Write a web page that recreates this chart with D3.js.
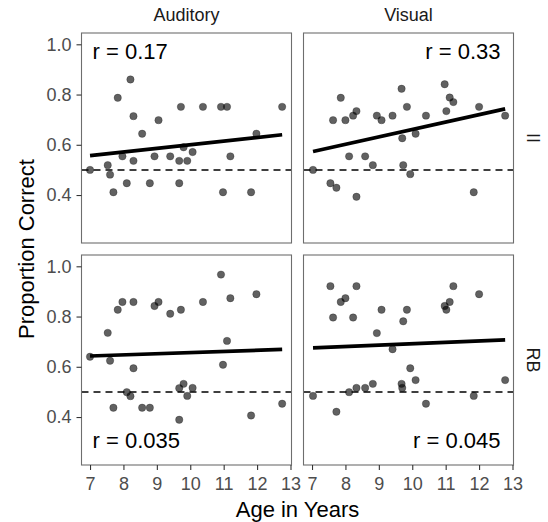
<!DOCTYPE html>
<html>
<head>
<meta charset="utf-8">
<script src="https://d3js.org/d3.v7.min.js"></script>
<style>
  body { margin: 0; background: #fff; }
  svg { display: block; }
  text { font-family: "Liberation Sans", Arial, Helvetica, sans-serif; }
</style>
</head>
<body>
<div id="chart"></div>
<script>
// Facet labels
const columns = ['Auditory', 'Visual'];
const rows = ['II', 'RB'];

// Ages (x) per modality column
const ageAuditory = [7.00, 7.53, 7.60, 7.70, 7.83, 7.97, 8.10, 8.21, 8.30, 8.30, 8.56, 8.79, 8.93, 9.05, 9.40,
  9.67, 9.67, 9.72, 9.80, 9.91, 10.07, 10.38, 10.92, 10.98, 11.10, 11.20, 11.82, 11.98, 12.75];
const ageVisual = [7.03, 7.55, 7.63, 7.73, 7.86, 8.00, 8.11, 8.23, 8.33, 8.33, 8.59, 8.82, 8.94, 9.08, 9.41,
  9.68, 9.70, 9.73, 9.84, 9.94, 10.10, 10.41, 10.97, 11.02, 11.12, 11.23, 11.84, 12.00, 12.78];

// Proportion correct (y) per panel
const pcAuditoryII = [0.500, 0.519, 0.481, 0.411, 0.787, 0.554, 0.447, 0.860, 0.714, 0.536, 0.644, 0.447, 0.554, 0.698, 0.554,
  0.447, 0.536, 0.751, 0.590, 0.536, 0.571, 0.751, 0.751, 0.411, 0.751, 0.554, 0.411, 0.644, 0.751];
const pcVisualII = [0.500, 0.447, 0.698, 0.429, 0.787, 0.698, 0.554, 0.716, 0.734, 0.393, 0.554, 0.519, 0.716, 0.698, 0.716,
  0.823, 0.626, 0.519, 0.751, 0.483, 0.644, 0.716, 0.841, 0.734, 0.788, 0.770, 0.411, 0.751, 0.716];
const pcAuditoryRB = [0.640, 0.735, 0.624, 0.437, 0.827, 0.858, 0.499, 0.483, 0.858, 0.594, 0.437, 0.437, 0.842, 0.858, 0.811,
  0.389, 0.515, 0.827, 0.532, 0.484, 0.516, 0.858, 0.967, 0.608, 0.703, 0.873, 0.406, 0.889, 0.453];
const pcVisualRB = [0.484, 0.921, 0.796, 0.421, 0.858, 0.873, 0.499, 0.796, 0.921, 0.516, 0.516, 0.532, 0.734, 0.827, 0.670,
  0.532, 0.516, 0.781, 0.827, 0.594, 0.547, 0.453, 0.842, 0.827, 0.858, 0.921, 0.484, 0.889, 0.547];

// Fitted line ends (y at min age, y at max age)
const fitStart = [0.557, 0.573, 0.643, 0.675];
const fitEnd = [0.640, 0.743, 0.669, 0.707];
const rLabels = ['r = 0.17', 'r = 0.33', 'r = 0.035', 'r = 0.045'];

const xTicks = [7, 8, 9, 10, 11, 12, 13];
const yTicks = [0.4, 0.6, 0.8, 1.0];
const chance = 0.5;

// panels in order: II-Auditory, II-Visual, RB-Auditory, RB-Visual
const panels = [
  { row: 0, col: 0, ages: ageAuditory, pc: pcAuditoryII },
  { row: 0, col: 1, ages: ageVisual, pc: pcVisualII },
  { row: 1, col: 0, ages: ageAuditory, pc: pcAuditoryRB },
  { row: 1, col: 1, ages: ageVisual, pc: pcVisualRB }
];

const width = 548, height = 522;
const panelSize = 210;
const colX = [81.5, 303.5];
const rowY = [33, 255];

const x = d3.scaleLinear().domain([6.745, 13.03]).range([0, panelSize]);
const y = d3.scaleLinear().domain([0.209, 1.045]).range([panelSize, 0]);

const svg = d3.select('#chart').append('svg')
  .attr('width', width)
  .attr('height', height);

panels.forEach((p, i) => {
  const g = svg.append('g').attr('transform', `translate(${colX[p.col]},${rowY[p.row]})`);

  // chance line
  g.append('line')
    .attr('x1', 0).attr('x2', panelSize)
    .attr('y1', y(chance)).attr('y2', y(chance))
    .attr('stroke', '#000')
    .attr('stroke-width', 1.5)
    .attr('stroke-dasharray', '7,5');

  // points
  g.selectAll('circle')
    .data(p.ages.map((a, j) => ({ age: a, pc: p.pc[j] })))
    .enter().append('circle')
    .attr('cx', d => x(d.age))
    .attr('cy', d => y(d.pc))
    .attr('r', 3.7)
    .attr('fill', '#000')
    .attr('fill-opacity', 0.62)
    .attr('stroke', '#000')
    .attr('stroke-opacity', 0.35)
    .attr('stroke-width', 0.7);

  // regression line
  const aMin = d3.min(p.ages), aMax = d3.max(p.ages);
  g.append('line')
    .attr('x1', x(aMin)).attr('y1', y(fitStart[i]))
    .attr('x2', x(aMax)).attr('y2', y(fitEnd[i]))
    .attr('stroke', '#000')
    .attr('stroke-width', 3.7);

  // r label
  const top = p.row === 0;
  const left = p.col === 0;
  g.append('text')
    .attr('x', left ? 11 : panelSize - 13)
    .attr('y', top ? 26 : 193)
    .attr('text-anchor', left ? 'start' : 'end')
    .attr('font-size', 22)
    .attr('fill', '#000')
    .text(rLabels[i]);

  // border
  g.append('rect')
    .attr('width', panelSize).attr('height', panelSize)
    .attr('fill', 'none')
    .attr('stroke', '#6e6e6e')
    .attr('stroke-width', 1.1);

  // y axis on left column
  if (p.col === 0) {
    const ay = g.append('g')
      .call(d3.axisLeft(y).tickValues(yTicks).tickFormat(d3.format('.1f')).tickSize(5).tickPadding(5));
    ay.select('.domain').remove();
  }
  // x axis on bottom row
  if (p.row === 1) {
    const ax = g.append('g')
      .attr('transform', `translate(0,${panelSize})`)
      .call(d3.axisBottom(x).tickValues(xTicks).tickFormat(d3.format('d')).tickSize(5).tickPadding(7));
    ax.select('.domain').remove();
  }
});

// axis styling
svg.selectAll('.tick line').attr('stroke', '#333').attr('stroke-width', 1.1);
svg.selectAll('.tick text')
  .attr('fill', '#4d4d4d')
  .attr('font-size', 18)
  .attr('font-family', '"Liberation Sans", Arial, sans-serif');

// column strips
columns.forEach((c, i) => {
  svg.append('text')
    .attr('x', colX[i] + panelSize / 2)
    .attr('y', 21)
    .attr('text-anchor', 'middle')
    .attr('font-size', 18)
    .attr('fill', '#1a1a1a')
    .text(c);
});

// row strips
rows.forEach((r, i) => {
  const cy = rowY[i] + panelSize / 2;
  svg.append('text')
    .attr('transform', `translate(527,${cy}) rotate(90)`)
    .attr('text-anchor', 'middle')
    .attr('font-size', 18)
    .attr('fill', '#1a1a1a')
    .text(r);
});

// axis titles
svg.append('text')
  .attr('x', (colX[0] + colX[1] + panelSize) / 2)
  .attr('y', 517)
  .attr('text-anchor', 'middle')
  .attr('font-size', 22)
  .attr('fill', '#000')
  .text('Age in Years');

svg.append('text')
  .attr('transform', `translate(34,${(rowY[0] + rowY[1] + panelSize) / 2}) rotate(-90)`)
  .attr('text-anchor', 'middle')
  .attr('font-size', 22)
  .attr('fill', '#000')
  .text('Proportion Correct');
</script>
</body>
</html>
